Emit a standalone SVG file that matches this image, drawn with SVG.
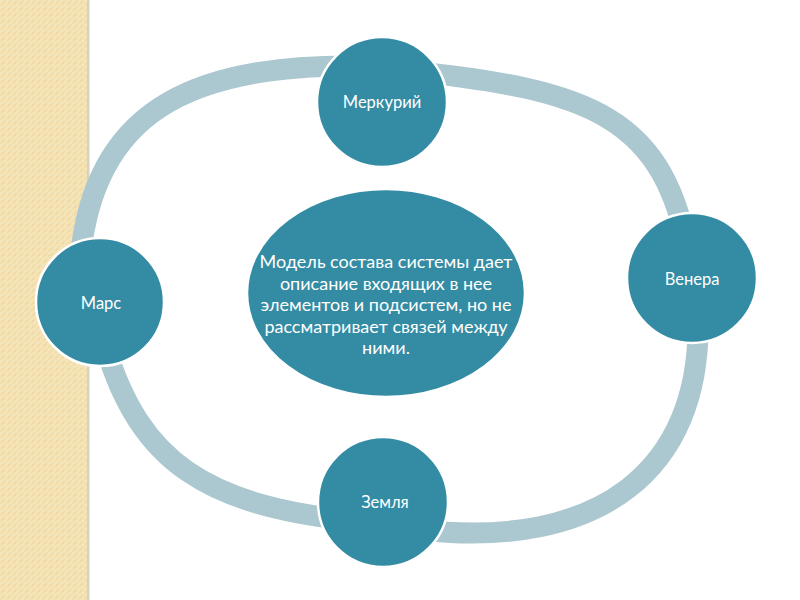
<svg xmlns="http://www.w3.org/2000/svg" width="800" height="600" viewBox="0 0 800 600">
<defs>
<pattern id="weave" width="6" height="6" patternUnits="userSpaceOnUse">
<rect width="6" height="6" fill="#f2dfad"/>
<rect x="0" y="0" width="3" height="3" fill="#f5e5bb"/>
<rect x="3" y="3" width="3" height="3" fill="#f5e5bb"/>
<rect x="2" y="2" width="2" height="2" fill="#efdaa6"/>
</pattern>
<style>
.node{fill:#348ca4;stroke:#ffffff;stroke-width:2.5}
.ring{fill:none;stroke:#abc7cf;stroke-width:21}
.lbl{font-family:"Lato","Open Sans",sans-serif;font-size:16.5px;fill:#ffffff;text-anchor:middle}
.ctr{font-family:"Lato","Open Sans",sans-serif;font-size:18px;fill:#ffffff;text-anchor:middle}
</style>
</defs>
<rect width="800" height="600" fill="#ffffff"/>
<rect x="0" y="0" width="87" height="600" fill="url(#weave)"/>
<rect x="87" y="0" width="2.5" height="600" fill="#d8d2c0"/>
<g id="connectors">
<path class="ring" d="M80,262 C92,112 190,66 350,66"/>
<path class="ring" d="M400,70 C595,89.5 665.4,117 690,262"/>
<path class="ring" d="M698,320 C701,470 600,550 420,530"/>
<path class="ring" d="M345,520 C210,503.8 140,465 105,345"/>
</g>
<g id="center">
<ellipse class="node" cx="386" cy="293" rx="139" ry="104"/>
<text class="ctr" x="386" y="268">Модель состава системы дает</text>
<text class="ctr" x="386" y="289.5">описание входящих в нее</text>
<text class="ctr" x="386" y="311">элементов и подсистем, но не</text>
<text class="ctr" x="386" y="332.5">рассматривает связей между</text>
<text class="ctr" x="386" y="354">ними.</text>
</g>
<g id="merkury">
<circle class="node" cx="382" cy="102" r="65"/>
<text class="lbl" x="382" y="108">Меркурий</text>
</g>
<g id="venera">
<circle class="node" cx="692" cy="278" r="65"/>
<text class="lbl" x="692" y="285">Венера</text>
</g>
<g id="zemlya">
<circle class="node" cx="383" cy="502" r="65"/>
<text class="lbl" x="385" y="508">Земля</text>
</g>
<g id="mars">
<circle class="node" cx="100" cy="302" r="64"/>
<text class="lbl" x="101" y="309">Марс</text>
</g>
</svg>
